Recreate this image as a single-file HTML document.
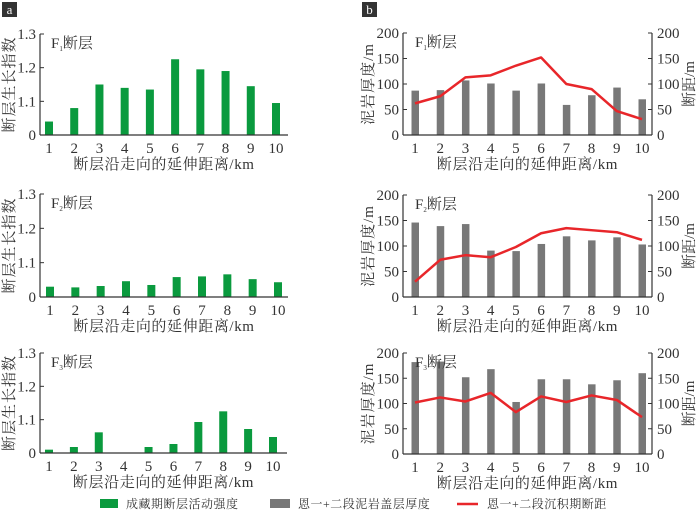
<!DOCTYPE html>
<html><head><meta charset="utf-8">
<style>
body{margin:0;background:#fff;}
svg text{font-family:"Liberation Serif","Noto Serif CJK SC",serif;fill:#333;}
</style></head>
<body>
<svg id="s" width="700" height="511" xmlns="http://www.w3.org/2000/svg"></svg>
<script>
const categories=[1,2,3,4,5,6,7,8,9,10];
const growthF1=[1.04,1.08,1.15,1.14,1.135,1.225,1.195,1.19,1.145,1.095];
const growthF2=[1.03,1.028,1.032,1.046,1.035,1.058,1.06,1.066,1.052,1.043];
const growthF3=[1.01,1.018,1.062,1.0,1.018,1.027,1.093,1.125,1.072,1.048];
const growthTicks=[1.0,1.1,1.2,1.3];
const growthTickLabels=["0","1.1","1.2","1.3"];
const mudF1=[87,88,107,101,87,101,59,78,93,70];
const mudF2=[146,139,143,91,90,104,119,111,117,103];
const mudF3=[182,183,152,168,103,148,148,138,146,160];
const throwF1=[62,76,113,117,136,152,100,90,47,31];
const throwF2=[30,73,82,78,98,125,135,131,127,112];
const throwF3=[102,112,104,121,83,114,103,116,107,73];
const thickTicks=[0,50,100,150,200];

const svg=document.getElementById('s');
const NS='http://www.w3.org/2000/svg';
function mk(tag,attrs,parent,text){const e=document.createElementNS(NS,tag);for(const k in attrs)e.setAttribute(k,attrs[k]);if(text!==undefined)e.textContent=text;(parent||svg).appendChild(e);return e;}

function badge(x,letter,name){
  const g=mk('g',{});
  
  
  mk('rect',{x:x,y:2,width:15,height:15,fill:'#333'},g);
  mk('text',{x:x+7.5,y:14,'text-anchor':'middle','font-size':'13',style:'fill:#fff'},g,letter);
}
badge(2,'a','panel-a-label');
badge(362,'b','panel-b-label');

function faultTitle(g,x,y,idx){
  const t=mk('text',{x:x,y:y,'font-size':'15'},g);
  
  
  mk('tspan',{},t,'F');
  mk('tspan',{'font-size':'7',dy:'3'},t,String(idx));
  mk('tspan',{dy:'-3'},t,'断层');
}
function xAxis(g,x0,x1,base,xs){
  mk('line',{x1:x0,y1:base,x2:x1,y2:base,stroke:'#333','stroke-width':1.2},g);
  categories.forEach((c,i)=>{
    const t=mk('text',{x:xs(i),y:base+18,'text-anchor':'middle','font-size':'15'},g,String(c));
    
    
  });
  const tt=mk('text',{x:(x0+x1)/2,y:base+34,'text-anchor':'middle','font-size':'15','letter-spacing':'0.6'},g,'断层沿走向的延伸距离/km');
  
  
}

function growthChart(vals,top,base,idx,x1End,first,last){
  const g=mk('g',{});
  
  
  const x0=40,x1=x1End;
  const ys=v=>base-(v-1.0)/0.3*(base-top);
  const xs=i=>first+i*(last-first)/9;
  mk('line',{x1:x0,y1:top,x2:x0,y2:base,stroke:'#333','stroke-width':1.2},g);
  growthTicks.forEach((t,i)=>{
    const y=ys(t);
    mk('line',{x1:x0,y1:y,x2:x0+4,y2:y,stroke:'#333'},g);
    const tl=mk('text',{x:x0-4,y:y+5,'text-anchor':'end','font-size':'15'},g,growthTickLabels[i]);
    
    
  });
  vals.forEach((v,i)=>{
    const b=mk('rect',{x:xs(i)-4,y:ys(v),width:8,height:base-ys(v),fill:'#0a9a3e'},g);
    
    
  });
  xAxis(g,x0,x1,base,xs);
  const yt=mk('text',{transform:`translate(14,${(top+base)/2}) rotate(-90)`,'text-anchor':'middle','font-size':'15','letter-spacing':'1'},g,'断层生长指数');
  
  
  faultTitle(g,x0+11,top+14,idx);
}
growthChart(growthF1,34,135,1,288,49,276);
growthChart(growthF2,194,297,2,288,50,278);
growthChart(growthF3,353,453,3,287,49,273);

function thickChart(bars,line,top,base,idx){
  const g=mk('g',{});
  
  
  const x0=403,x1=652;
  const ys=v=>base-v/200*(base-top);
  const xs=i=>415+i*(642-415)/9;
  mk('line',{x1:x0,y1:top,x2:x0,y2:base,stroke:'#333','stroke-width':1.2},g);
  mk('line',{x1:x1,y1:top,x2:x1,y2:base,stroke:'#333','stroke-width':1.2},g);
  thickTicks.forEach(t=>{
    const y=ys(t);
    mk('line',{x1:x0,y1:y,x2:x0+4,y2:y,stroke:'#333'},g);
    mk('line',{x1:x1,y1:y,x2:x1-4,y2:y,stroke:'#333'},g);
    const a=mk('text',{x:x0-4,y:y+5,'text-anchor':'end','font-size':'15'},g,String(t));
    
    
    const b=mk('text',{x:x1+5,y:y+5,'text-anchor':'start','font-size':'15'},g,String(t));
    
    
  });
  bars.forEach((v,i)=>{
    const r=mk('rect',{x:xs(i)-3.5,y:ys(v),width:7.5,height:base-ys(v),fill:'#787878'},g);
    
    
  });
  const pts=line.map((v,i)=>xs(i)+','+ys(v)).join(' ');
  const pl=mk('polyline',{points:pts,fill:'none',stroke:'#e8262a','stroke-width':2.5,'stroke-linejoin':'round'},g);
  
  
  xAxis(g,x0,x1,base,xs);
  const yt=mk('text',{transform:`translate(373,${(top+base)/2}) rotate(-90)`,'text-anchor':'middle','font-size':'15','letter-spacing':'1'},g,'泥岩厚度/m');
  
  
  const yr=mk('text',{transform:`translate(694,${(top+base)/2}) rotate(-90)`,'text-anchor':'middle','font-size':'15'},g,'断距/m');
  
  
  faultTitle(g,x0+12,top+14,idx);
}
thickChart(mudF1,throwF1,33,135,1);
thickChart(mudF2,throwF2,195,297,2);
thickChart(mudF3,throwF3,353,454,3);

const lg=mk('g',{});


const e1=mk('g',{},lg);


mk('rect',{x:100,y:499,width:18,height:9,fill:'#0a9a3e'},e1);
mk('text',{x:126,y:508,'font-size':'12','letter-spacing':'0.5'},e1,'成藏期断层活动强度');
const e2=mk('g',{},lg);


mk('rect',{x:270,y:499,width:20,height:9,fill:'#787878'},e2);
mk('text',{x:298,y:508,'font-size':'12','letter-spacing':'0.5'},e2,'恩一+二段泥岩盖层厚度');
const e3=mk('g',{},lg);


mk('line',{x1:457,y1:504,x2:478,y2:504,stroke:'#e8262a','stroke-width':2.5},e3);
mk('text',{x:487,y:508,'font-size':'12','letter-spacing':'0.5'},e3,'恩一+二段沉积期断距');
</script>
</body></html>
